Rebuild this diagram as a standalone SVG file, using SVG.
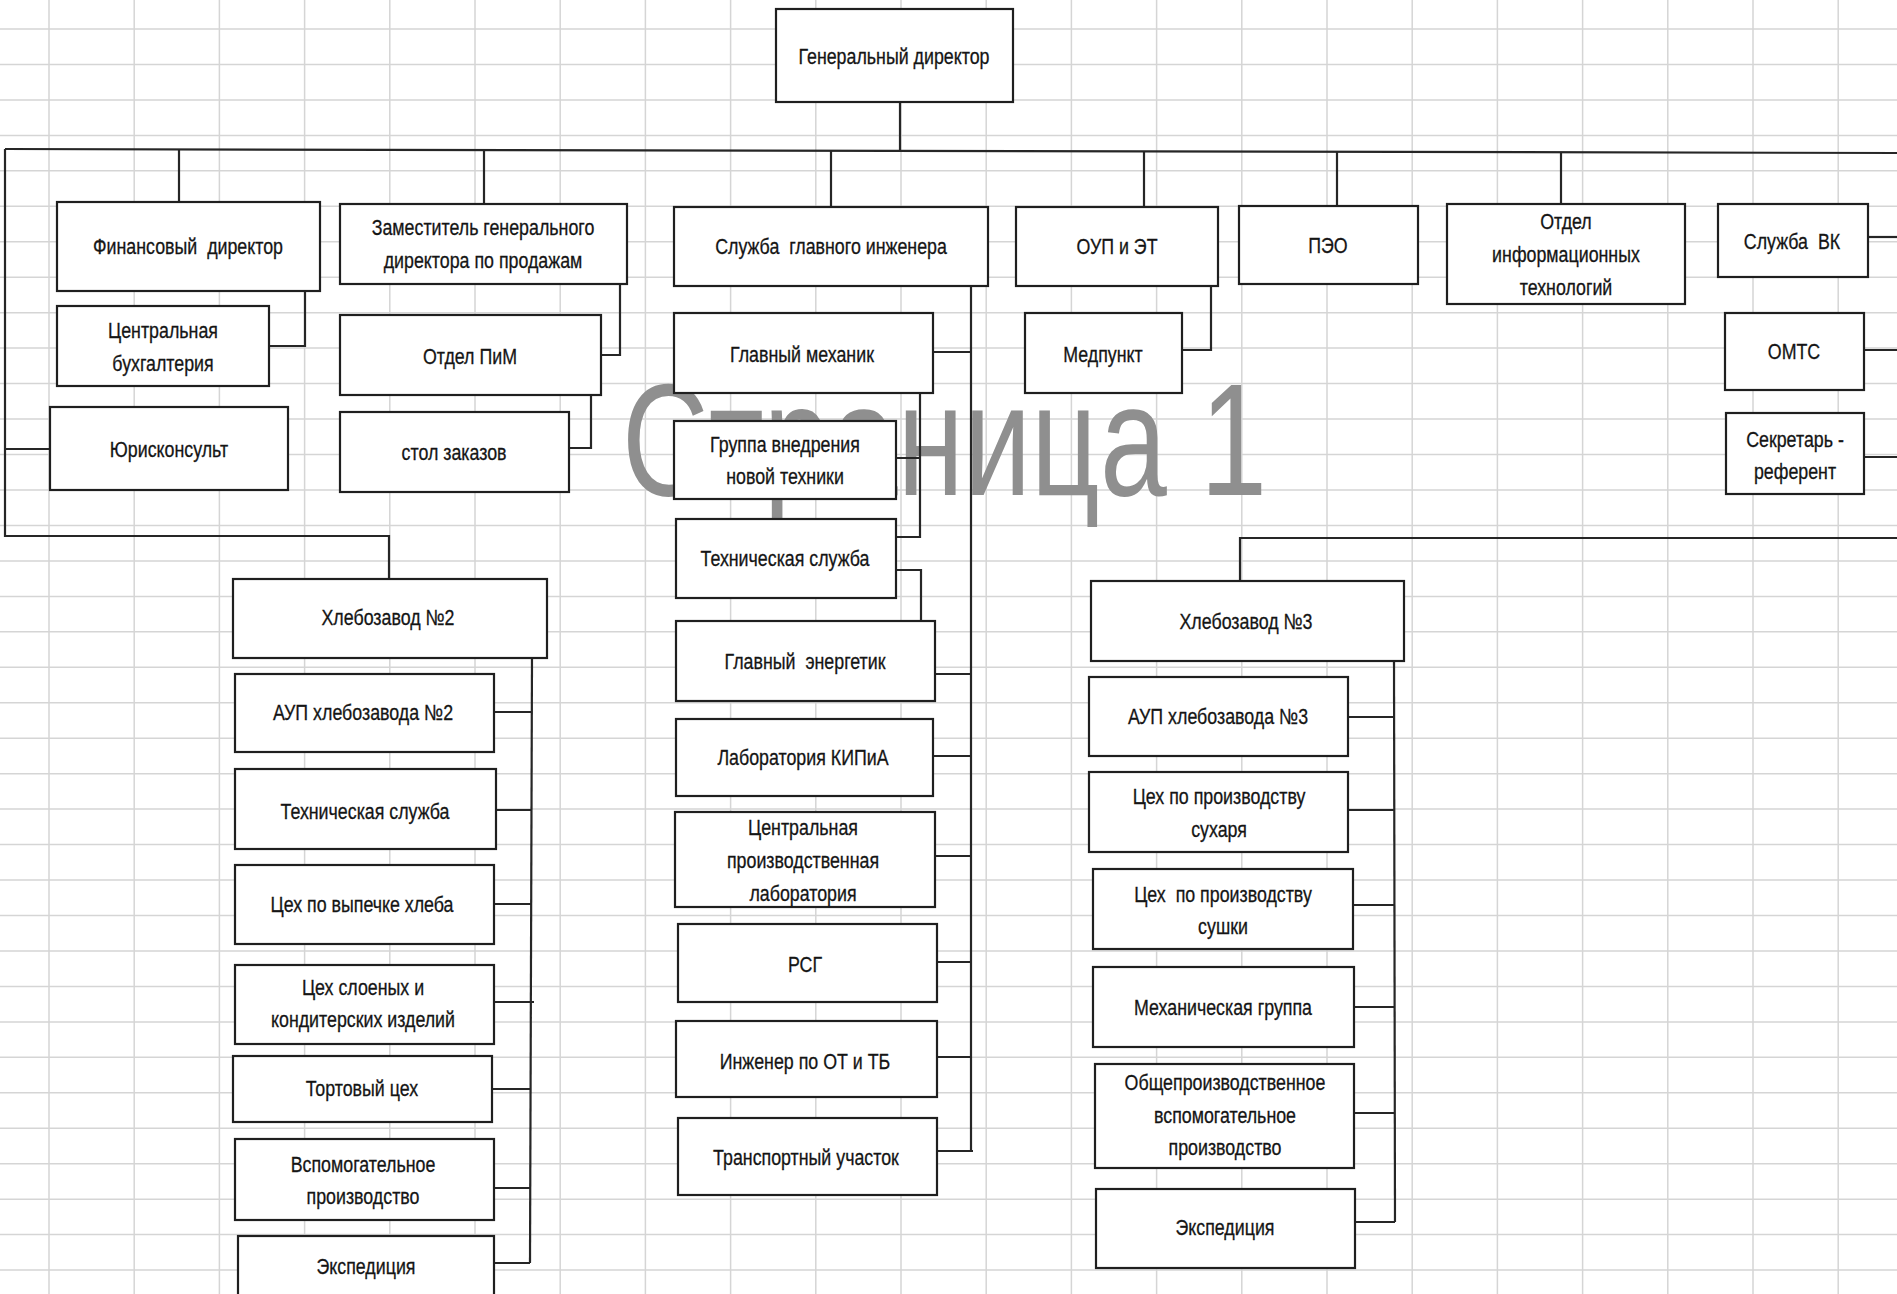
<svg xmlns="http://www.w3.org/2000/svg" width="1897" height="1294" viewBox="0 0 1897 1294">
  <style>
    .grid { stroke: #d5d5d5; stroke-width: 1.5; fill: none; }
    .box { fill: #ffffff; stroke: #1f1f1f; stroke-width: 2.2; }
    .con { fill: none; stroke: #262626; stroke-width: 2.2; }
    .lbl { font-family: "Liberation Sans", Arial, sans-serif; font-size: 22px; fill: #151515; stroke: #151515; stroke-width: 0.3; text-anchor: middle; }
    .wm { font-family: "Liberation Sans", Arial, sans-serif; font-size: 160px; fill: #8f8f8f; }
  </style>

  <!-- sheet background and cell grid -->
  <rect x="0" y="0" width="1897" height="1294" fill="#ffffff"/>
  <path class="grid" d="M49 0V1294M134.2 0V1294M219.4 0V1294M304.6 0V1294M389.8 0V1294M475 0V1294M560.2 0V1294M645.4 0V1294M730.6 0V1294M815.8 0V1294M901 0V1294M986.2 0V1294M1071.4 0V1294M1156.6 0V1294M1241.8 0V1294M1327 0V1294M1412.2 0V1294M1497.4 0V1294M1582.6 0V1294M1667.8 0V1294M1753 0V1294M1838.2 0V1294"/>
  <path class="grid" d="M0 29H1897M0 64.5H1897M0 99.9H1897M0 135.4H1897M0 170.8H1897M0 206.3H1897M0 241.8H1897M0 277.2H1897M0 312.7H1897M0 348.1H1897M0 383.6H1897M0 419.1H1897M0 454.5H1897M0 490H1897M0 525.4H1897M0 560.9H1897M0 596.4H1897M0 631.8H1897M0 667.3H1897M0 702.7H1897M0 738.2H1897M0 773.7H1897M0 809.1H1897M0 844.6H1897M0 880H1897M0 915.5H1897M0 951H1897M0 986.4H1897M0 1021.9H1897M0 1057.3H1897M0 1092.8H1897M0 1128.3H1897M0 1163.7H1897M0 1199.2H1897M0 1234.6H1897M0 1270.1H1897"/>

  <!-- page watermark, drawn under the boxes -->
  <text class="wm" x="622" y="495" textLength="645" lengthAdjust="spacingAndGlyphs">Страница 1</text>

  <!-- connectors -->
  <g id="connectors">
    <path class="con" d="M900 102V151"/>
    <path class="con" d="M5 149L1897 153"/>
    <path class="con" d="M5 149V536H389V579"/>
    <path class="con" d="M5 449H50"/>
    <path class="con" d="M179 150V202"/>
    <path class="con" d="M484 150V204"/>
    <path class="con" d="M831 151V207"/>
    <path class="con" d="M1144 152V207"/>
    <path class="con" d="M1337 152V206"/>
    <path class="con" d="M1561 153V204"/>
    <path class="con" d="M305 291V346H269"/>
    <path class="con" d="M620 284V355H601"/>
    <path class="con" d="M591 395V448H569"/>
    <path class="con" d="M1211 286V350H1182"/>
    <path class="con" d="M1868 237H1897"/>
    <path class="con" d="M1864 350H1897"/>
    <path class="con" d="M1864 457H1897"/>
    <path class="con" d="M1897 538H1240V581"/>
    <!-- chief engineer service -->
    <path class="con" d="M971 286V1151"/>
    <path class="con" d="M933 352H971M935 674H971M933 756H971M935 856H971M937 962H971M937 1057H971M937 1151H973"/>
    <path class="con" d="M920 393V537H896M896 458H920"/>
    <path class="con" d="M896 570H921V621"/>
    <!-- bakery 2 -->
    <path class="con" d="M532 658L530 1263"/>
    <path class="con" d="M494 712H531M496 810H531M494 904H531M494 1002H534M492 1089H530M494 1188H530M494 1263H530"/>
    <!-- bakery 3 -->
    <path class="con" d="M1394 661L1395 1222"/>
    <path class="con" d="M1348 717H1394M1348 810H1394M1353 905H1395M1354 1007H1395M1354 1113H1395M1355 1222H1395"/>
  </g>

  <!-- top management -->
  <g id="gen-director"><rect class="box" x="776" y="9" width="237" height="93"/>
    <text class="lbl" transform="translate(894 64) scale(0.81 1)">Генеральный директор</text></g>
  <g id="fin-director"><rect class="box" x="57" y="202" width="263" height="89"/>
    <text class="lbl" transform="translate(188 254) scale(0.81 1)" xml:space="preserve">Финансовый  директор</text></g>
  <g id="deputy-sales"><rect class="box" x="340" y="204" width="287" height="80"/>
    <text class="lbl" transform="translate(483 235) scale(0.81 1)"><tspan x="0">Заместитель генерального</tspan><tspan x="0" dy="33">директора по продажам</tspan></text></g>
  <g id="accounting"><rect class="box" x="57" y="306" width="212" height="80"/>
    <text class="lbl" transform="translate(163 338) scale(0.81 1)"><tspan x="0">Центральная</tspan><tspan x="0" dy="33">бухгалтерия</tspan></text></g>
  <g id="lawyer"><rect class="box" x="50" y="407" width="238" height="83"/>
    <text class="lbl" transform="translate(169 457) scale(0.81 1)">Юрисконсульт</text></g>
  <g id="dept-pim"><rect class="box" x="340" y="315" width="261" height="80"/>
    <text class="lbl" transform="translate(470 364) scale(0.81 1)">Отдел ПиМ</text></g>
  <g id="order-desk"><rect class="box" x="340" y="412" width="229" height="80"/>
    <text class="lbl" transform="translate(454 460) scale(0.81 1)">стол заказов</text></g>
  <g id="chief-engineer"><rect class="box" x="674" y="207" width="314" height="79"/>
    <text class="lbl" transform="translate(831 254) scale(0.81 1)" xml:space="preserve">Служба  главного инженера</text></g>
  <g id="oup-et"><rect class="box" x="1016" y="207" width="202" height="79"/>
    <text class="lbl" transform="translate(1117 254) scale(0.81 1)">ОУП и ЭТ</text></g>
  <g id="peo"><rect class="box" x="1239" y="206" width="179" height="78"/>
    <text class="lbl" transform="translate(1328 253) scale(0.81 1)">ПЭО</text></g>
  <g id="it-dept"><rect class="box" x="1447" y="204" width="238" height="100"/>
    <text class="lbl" transform="translate(1566 229) scale(0.81 1)"><tspan x="0">Отдел</tspan><tspan x="0" dy="33">информационных</tspan><tspan x="0" dy="33">технологий</tspan></text></g>
  <g id="vk-service"><rect class="box" x="1718" y="204" width="150" height="73"/>
    <text class="lbl" transform="translate(1792 249) scale(0.81 1)" xml:space="preserve">Служба  ВК</text></g>
  <g id="omts"><rect class="box" x="1725" y="313" width="139" height="77"/>
    <text class="lbl" transform="translate(1794 359) scale(0.81 1)">ОМТС</text></g>
  <g id="secretary"><rect class="box" x="1726" y="413" width="138" height="81"/>
    <text class="lbl" transform="translate(1795 447) scale(0.81 1)"><tspan x="0">Секретарь -</tspan><tspan x="0" dy="32">референт</tspan></text></g>
  <g id="medpunkt"><rect class="box" x="1025" y="313" width="157" height="80"/>
    <text class="lbl" transform="translate(1103 362) scale(0.81 1)">Медпункт</text></g>

  <!-- chief engineer service units -->
  <g id="chief-mechanic"><rect class="box" x="674" y="313" width="259" height="80"/>
    <text class="lbl" transform="translate(802 362) scale(0.81 1)">Главный механик</text></g>
  <g id="new-tech-group"><rect class="box" x="674" y="421" width="222" height="78"/>
    <text class="lbl" transform="translate(785 452) scale(0.81 1)"><tspan x="0">Группа внедрения</tspan><tspan x="0" dy="32">новой техники</tspan></text></g>
  <g id="tech-service"><rect class="box" x="676" y="519" width="220" height="79"/>
    <text class="lbl" transform="translate(785 566) scale(0.81 1)">Техническая служба</text></g>
  <g id="chief-power"><rect class="box" x="676" y="621" width="259" height="80"/>
    <text class="lbl" transform="translate(805 669) scale(0.81 1)" xml:space="preserve">Главный  энергетик</text></g>
  <g id="kipia-lab"><rect class="box" x="676" y="719" width="257" height="77"/>
    <text class="lbl" transform="translate(803 765) scale(0.81 1)">Лаборатория КИПиА</text></g>
  <g id="central-lab"><rect class="box" x="675" y="812" width="260" height="95"/>
    <text class="lbl" transform="translate(803 835) scale(0.81 1)"><tspan x="0">Центральная</tspan><tspan x="0" dy="33">производственная</tspan><tspan x="0" dy="33">лаборатория</tspan></text></g>
  <g id="rsg"><rect class="box" x="678" y="924" width="259" height="78"/>
    <text class="lbl" transform="translate(805 972) scale(0.81 1)">РСГ</text></g>
  <g id="safety-engineer"><rect class="box" x="676" y="1021" width="261" height="76"/>
    <text class="lbl" transform="translate(805 1069) scale(0.81 1)">Инженер по ОТ и ТБ</text></g>
  <g id="transport"><rect class="box" x="678" y="1118" width="259" height="77"/>
    <text class="lbl" transform="translate(806 1165) scale(0.81 1)">Транспортный участок</text></g>

  <!-- bakery No.2 -->
  <g id="bakery2"><rect class="box" x="233" y="579" width="314" height="79"/>
    <text class="lbl" transform="translate(388 625) scale(0.81 1)">Хлебозавод №2</text></g>
  <g id="b2-aup"><rect class="box" x="235" y="674" width="259" height="78"/>
    <text class="lbl" transform="translate(363 720) scale(0.81 1)">АУП хлебозавода №2</text></g>
  <g id="b2-tech"><rect class="box" x="235" y="769" width="261" height="80"/>
    <text class="lbl" transform="translate(365 819) scale(0.81 1)">Техническая служба</text></g>
  <g id="b2-bread"><rect class="box" x="235" y="865" width="259" height="79"/>
    <text class="lbl" transform="translate(362 912) scale(0.81 1)">Цех по выпечке хлеба</text></g>
  <g id="b2-pastry"><rect class="box" x="235" y="965" width="259" height="79"/>
    <text class="lbl" transform="translate(363 995) scale(0.81 1)"><tspan x="0">Цех слоеных и</tspan><tspan x="0" dy="32">кондитерских изделий</tspan></text></g>
  <g id="b2-cake"><rect class="box" x="233" y="1056" width="259" height="66"/>
    <text class="lbl" transform="translate(362 1096) scale(0.81 1)">Тортовый цех</text></g>
  <g id="b2-auxiliary"><rect class="box" x="235" y="1139" width="259" height="81"/>
    <text class="lbl" transform="translate(363 1172) scale(0.81 1)"><tspan x="0">Вспомогательное</tspan><tspan x="0" dy="32">производство</tspan></text></g>
  <g id="b2-dispatch"><rect class="box" x="238" y="1236" width="256" height="70"/>
    <text class="lbl" transform="translate(366 1274) scale(0.81 1)">Экспедиция</text></g>

  <!-- bakery No.3 -->
  <g id="bakery3"><rect class="box" x="1091" y="581" width="313" height="80"/>
    <text class="lbl" transform="translate(1246 629) scale(0.81 1)">Хлебозавод №3</text></g>
  <g id="b3-aup"><rect class="box" x="1089" y="677" width="259" height="79"/>
    <text class="lbl" transform="translate(1218 724) scale(0.81 1)">АУП хлебозавода №3</text></g>
  <g id="b3-rusk"><rect class="box" x="1089" y="772" width="259" height="80"/>
    <text class="lbl" transform="translate(1219 804) scale(0.81 1)"><tspan x="0">Цех по производству</tspan><tspan x="0" dy="33">сухаря</tspan></text></g>
  <g id="b3-drying"><rect class="box" x="1093" y="869" width="260" height="80"/>
    <text class="lbl" transform="translate(1223 902) scale(0.81 1)" xml:space="preserve"><tspan x="0">Цех  по производству</tspan><tspan x="0" dy="32">сушки</tspan></text></g>
  <g id="b3-mechanical"><rect class="box" x="1093" y="967" width="261" height="80"/>
    <text class="lbl" transform="translate(1223 1015) scale(0.81 1)">Механическая группа</text></g>
  <g id="b3-general"><rect class="box" x="1095" y="1064" width="259" height="104"/>
    <text class="lbl" transform="translate(1225 1090) scale(0.81 1)"><tspan x="0">Общепроизводственное</tspan><tspan x="0" dy="33">вспомогательное</tspan><tspan x="0" dy="32">производство</tspan></text></g>
  <g id="b3-dispatch"><rect class="box" x="1096" y="1189" width="259" height="79"/>
    <text class="lbl" transform="translate(1225 1235) scale(0.81 1)">Экспедиция</text></g>
</svg>
